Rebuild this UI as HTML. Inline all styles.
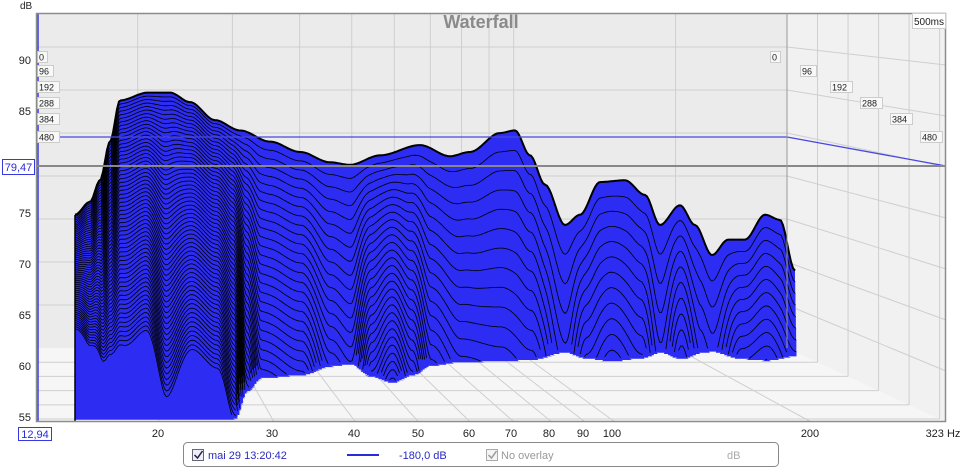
<!DOCTYPE html>
<html><head><meta charset="utf-8"><style>
html,body{margin:0;padding:0;background:#fff;width:963px;height:469px;overflow:hidden}
svg{display:block;font-family:"Liberation Sans",sans-serif}
</style></head><body>
<svg id="s" width="963" height="469" viewBox="0 0 963 469" xmlns="http://www.w3.org/2000/svg">
<rect x="36" y="13" width="910" height="409" fill="#ebebeb"/>
<polygon points="36,348 787,348 946,422 36,422" fill="#f6f6f6"/>
<polygon points="787,13 946,13 946,422 787,348" fill="#f1f1f1"/>
<g id="grid" stroke="#cfcfcf" stroke-width="1" fill="none"></g>
<text x="481" y="28" text-anchor="middle" font-size="18" font-weight="bold" fill="#8a8a8a">Waterfall</text>
<g id="wf"></g>
<g id="over"></g>
<rect x="36.5" y="13.5" width="909" height="408" fill="none" stroke="#8c8c8c" stroke-width="1.5"/>
<line x1="787" y1="13" x2="787" y2="348" stroke="#999"/>
<g font-size="11" fill="#222" text-anchor="end">
<text x="31" y="64">90</text><text x="31" y="115">85</text><text x="31" y="217">75</text>
<text x="31" y="268">70</text><text x="31" y="319">65</text><text x="31" y="370">60</text><text x="31" y="421">55</text>
</g>
<text x="20" y="9" font-size="10" fill="#222">dB</text>
<g font-size="11" fill="#222" text-anchor="middle">
<text x="158" y="437">20</text><text x="272" y="437">30</text><text x="354" y="437">40</text><text x="418" y="437">50</text>
<text x="469" y="437">60</text><text x="511" y="437">70</text><text x="549" y="437">80</text><text x="583" y="437">90</text>
<text x="612" y="437">100</text><text x="810" y="437">200</text><text x="943" y="437">323 Hz</text>
</g>
<rect x="2.5" y="159.5" width="32" height="15" fill="#fff" stroke="#3838e0"/>
<text x="18.5" y="171" font-size="11" fill="#2a2ad8" text-anchor="middle">79,47</text>
<rect x="18.5" y="427.5" width="33" height="13" fill="#fff" stroke="#3838e0"/>
<text x="35" y="438" font-size="11" fill="#2a2ad8" text-anchor="middle">12,94</text>
<rect x="912.5" y="13.5" width="33" height="15" fill="#fff" stroke="#ccc"/>
<text x="929" y="25" font-size="10" fill="#222" text-anchor="middle">500ms</text>
<rect x="183.5" y="442.5" width="595" height="24" rx="4" fill="#fff" stroke="#888"/>
<rect x="192.5" y="449.5" width="11" height="11" fill="#eef" stroke="#667"/>
<path d="M194.5 455 l3 3 l5 -7" stroke="#223" stroke-width="1.5" fill="none"/>
<text x="208" y="459" font-size="11" fill="#2a2ac0">mai 29 13:20:42</text>
<line x1="347" y1="455" x2="379" y2="455" stroke="#2a2ad8" stroke-width="2"/>
<text x="399" y="459" font-size="11" fill="#2a2ac0">-180,0 dB</text>
<rect x="486.5" y="449.5" width="11" height="11" fill="#f4f4f4" stroke="#aaa"/>
<path d="M488.5 455 l3 3 l5 -7" stroke="#999" stroke-width="1.5" fill="none"/>
<text x="501" y="459" font-size="11" fill="#999">No overlay</text>
<text x="727" y="459" font-size="11" fill="#aaa">dB</text>
</svg>
<script>
var NS="http://www.w3.org/2000/svg";
function el(p,t,a){var e=document.createElementNS(NS,t);for(var k in a)e.setAttribute(k,a[k]);p.appendChild(e);return e;}
var g=document.getElementById('grid');
function L(x1,y1,x2,y2,c){el(g,'line',{x1:x1,y1:y1,x2:x2,y2:y2,stroke:c||'#cfcfcf'});}
for(var db=60;db<=90;db+=5){var yb=348-(db-55)*8.6,yf=422-(db-55)*10.2;L(36,yb,787,yb);L(787,yb,946,yf);}
var fr=[20,30,40,50,60,70,80,90,100,200];
fr.forEach(function(f){var l=Math.log10(f)-1.112;var xf=36+l*652,xb=36+l*652*0.825;L(xb,13,xb,348);L(xb,348,xf,422);});
for(var t=96;t<=480;t+=96){var d=t/500;var y=348+74*d,x=787+159*d;L(36,y,x,y);L(x,13,x,y);}
var A=[[75,70.5],[90,72],[100,74.5],[110,79],[120,83.8],[148,84.7],[170,84.7],[190,83.6],[215,81.5],[240,80.3],[270,79],[300,77.8],[330,76.6],[350,76.3],[380,77.4],[420,78.6],[450,77.3],[470,77.8],[500,80],[515,80.3],[530,77.4],[545,74],[565,69.3],[580,70.5],[600,74.3],[625,74.5],[645,72.8],[660,69.3],[680,71.6],[695,69.3],[712,65.8],[728,67.6],[745,67.6],[765,70.5],[780,69.9],[795,64]];
var D=[[75,2.3],[90,1.7],[105,1.33],[125,1.3],[145,1.38],[165,1.05],[190,1.28],[215,1.2],[232,0.97],[245,0.6],[260,0.42],[300,0.38],[330,0.26],[350,0.23],[370,0.4],[390,0.48],[410,0.38],[430,0.25],[460,0.2],[500,0.19],[530,0.17],[565,0.07],[585,0.15],[610,0.19],[640,0.15],[660,0.07],[680,0.16],[700,0.08],[712,0.06],[740,0.16],[765,0.18],[795,0.12]];
function interp(P,x,s){if(x<=P[0][0])return P[0][1];for(var i=1;i<P.length;i++){if(x<=P[i][0]){var a=P[i-1],b=P[i],t=(x-a[0])/(b[0]-a[0]);if(s)t=t*t*(3-2*t);return a[1]+(b[1]-a[1])*t;}}return P[P.length-1][1];}
var wf=document.getElementById('wf');var N=60;
for(var i=0;i<=N;i++){
 var d=i/N*0.97,k=8.6+1.6*d,Yb=348+74*d,W=720+13*d;
 var pts=[],segs=[],cur=[];
 for(var xb=75;xb<=795;xb+=2){
  var a0=interp(A,xb,true),de=interp(D,xb,true);
  var dbv=a0-(a0-55)/de*d;
  var u=(xb-75)/720,x=75+u*W,h=Math.max(0,dbv-55),y=Yb-h*k;
  pts.push(x.toFixed(1)+','+y.toFixed(1));
  if(dbv>55.15){cur.push((cur.length?'L':'M')+x.toFixed(1)+' '+y.toFixed(1));}else if(cur.length){segs.push(cur.join(''));cur=[];}
 }
 if(cur.length)segs.push(cur.join(''));
 pts.push((75+W).toFixed(1)+','+Yb.toFixed(1));pts.push('75,'+Yb.toFixed(1));
 el(wf,'polygon',{points:pts.join(' '),fill:'#2c2cf2'});
 if(segs.length)el(wf,'path',{d:segs.join(''),fill:'none',stroke:'#000','stroke-width':i==0?2:0.8});
}
el(wf,'line',{x1:75,y1:215,x2:75,y2:422,stroke:'#000','stroke-width':1.5});
var o=document.getElementById('over');
el(o,'line',{x1:38,y1:13,x2:38,y2:422,stroke:'#3a3ae0','stroke-width':1.5});
el(o,'polyline',{points:'36,137 787,137 946,166',fill:'none',stroke:'#4848e0','stroke-width':1.3});
el(o,'line',{x1:36,y1:166,x2:946,y2:166,stroke:'#888','stroke-width':2});
var lab=[['0',51],['96',65],['192',81],['288',97],['384',113],['480',131]];
lab.forEach(function(a,j){
 var w=a[0].length*6+4;
 el(o,'rect',{x:37.5,y:a[1]+.5,width:w,height:11,fill:'#f8f8f8',stroke:'#ccc'});
 var t=el(o,'text',{x:39,y:a[1]+9.5,'font-size':9,fill:'#222'});t.textContent=a[0];
 var rx=770+j*30;
 el(o,'rect',{x:rx+.5,y:a[1]+.5,width:w,height:11,fill:'#f8f8f8',stroke:'#ccc'});
 var t2=el(o,'text',{x:rx+2,y:a[1]+9.5,'font-size':9,fill:'#222'});t2.textContent=a[0];
});
</script>
</body></html>
